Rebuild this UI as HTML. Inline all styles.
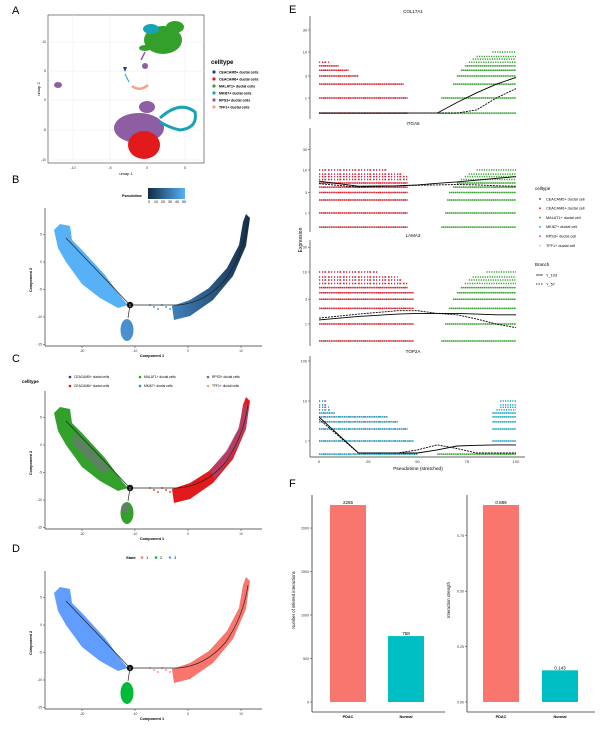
<!DOCTYPE html>
<html><head><meta charset="utf-8"><style>
body{margin:0;background:#fff}
svg{display:block;font-family:"Liberation Sans",sans-serif}
</style></head><body>
<svg id="fig" width="614" height="729" viewBox="0 0 614 729" xmlns="http://www.w3.org/2000/svg">
<defs>
<linearGradient id="gPseudo" x1="0" x2="1" y1="0" y2="0"><stop offset="0" stop-color="#132B43"/><stop offset="1" stop-color="#56B1F7"/></linearGradient>
<linearGradient id="gRight" x1="175" y1="0" x2="250" y2="0" gradientUnits="userSpaceOnUse"><stop offset="0" stop-color="#3e7fb8"/><stop offset="1" stop-color="#152f4a"/></linearGradient>
</defs>
<g font-size="11" fill="#000">
<text x="12" y="14">A</text>
<text x="12" y="183">B</text>
<text x="12" y="362">C</text>
<text x="12" y="552">D</text>
<text x="289" y="13">E</text>
<text x="289" y="487">F</text>
</g>

<g>
<rect x="48" y="15" width="156" height="148" fill="#fff" stroke="#555" stroke-width="0.7"/>
<g stroke="#ebebeb" stroke-width="0.5">
<line x1="73" y1="15" x2="73" y2="163"/><line x1="110" y1="15" x2="110" y2="163"/><line x1="147" y1="15" x2="147" y2="163"/><line x1="185" y1="15" x2="185" y2="163"/>
<line x1="48" y1="42" x2="204" y2="42"/><line x1="48" y1="71" x2="204" y2="71"/><line x1="48" y1="100" x2="204" y2="100"/><line x1="48" y1="130" x2="204" y2="130"/><line x1="48" y1="160" x2="204" y2="160"/>
</g>
<ellipse cx="163" cy="40" rx="19" ry="14" fill="#33a02c"/>
<ellipse cx="175" cy="27" rx="9" ry="6" fill="#33a02c"/>
<ellipse cx="151" cy="29" rx="8" ry="5" fill="#17a2b8"/>
<ellipse cx="145" cy="48" rx="6" ry="3" fill="#33a02c"/>
<ellipse cx="145" cy="66" rx="3" ry="3" fill="#8e5ea2"/>
<path d="M145 52 L141 60" stroke="#8e5ea2" stroke-width="1.5"/>
<path d="M123 67 l4 0 l-2 5z" fill="#1f3a93"/>
<path d="M125 74 L129 82" stroke="#17a2b8" stroke-width="1"/>
<path d="M132 86 Q140 92 148 85" stroke="#f4a582" stroke-width="2.5" fill="none"/>
<ellipse cx="58" cy="85" rx="4" ry="3" fill="#8e5ea2"/>
<ellipse cx="147" cy="107" rx="8" ry="6" fill="#8e5ea2"/>
<ellipse cx="139" cy="128" rx="25" ry="15" fill="#8e5ea2"/>
<ellipse cx="144" cy="145" rx="16" ry="14" fill="#e31a1c"/>
<path d="M160 118 Q180 100 195 112 Q198 128 180 130 Q170 128 160 122" stroke="#17a2b8" stroke-width="3" fill="none"/>
<g font-size="3.5" fill="#333">
<text x="73" y="169" text-anchor="middle">-10</text><text x="110" y="169" text-anchor="middle">-5</text><text x="147" y="169" text-anchor="middle">0</text><text x="185" y="169" text-anchor="middle">5</text>
<text x="46" y="43" text-anchor="end">10</text><text x="46" y="72" text-anchor="end">5</text><text x="46" y="101" text-anchor="end">0</text><text x="46" y="131" text-anchor="end">-5</text><text x="46" y="161" text-anchor="end">-10</text>
</g>
<text x="126" y="175" font-size="4" text-anchor="middle">umap 1</text>
<text x="40" y="89" font-size="4" text-anchor="middle" transform="rotate(-90 40 89)">umap 2</text>
<g font-size="3.5" font-weight="bold">
<text x="211" y="64" font-size="6">celltype</text>
<circle cx="214" cy="72" r="1.6" fill="#1f3a93"/><text x="219" y="73.5">CEACAM5+ ductal cells</text>
<circle cx="214" cy="79" r="1.6" fill="#e31a1c"/><text x="219" y="80.5">CEACAM6+ ductal cells</text>
<circle cx="214" cy="86" r="1.6" fill="#33a02c"/><text x="219" y="87.5">MALAT1+ ductal cells</text>
<circle cx="214" cy="93" r="1.6" fill="#17a2b8"/><text x="219" y="94.5">MKI67+ ductal cells</text>
<circle cx="214" cy="100" r="1.6" fill="#8e5ea2"/><text x="219" y="101.5">RPS3+ ductal cells</text>
<circle cx="214" cy="107" r="1.6" fill="#f4a582"/><text x="219" y="108.5">TFF1+ ductal cells</text>
</g>
</g>

<g font-size="3.5">
<text x="122" y="197" font-weight="bold">Pseudotime</text>
<rect x="148" y="188" width="37" height="11" fill="url(#gPseudo)"/>
<text x="148" y="203">0</text><text x="154" y="203">10</text><text x="161" y="203">20</text><text x="168" y="203">30</text><text x="175" y="203">40</text><text x="182" y="203">50</text>
</g>
<g font-size="3.3">
<text x="22" y="383" font-size="4.5" font-weight="bold">celltype</text>
<circle cx="70" cy="377" r="1.3" fill="#1f3a93"/><text x="74" y="378.2">CEACAM5+ ductal cells</text>
<circle cx="140" cy="377" r="1.3" fill="#33a02c"/><text x="144" y="378.2">MALAT1+ ductal cells</text>
<circle cx="208" cy="377" r="1.3" fill="#8e5ea2"/><text x="212" y="378.2">RPS3+ ductal cells</text>
<circle cx="70" cy="386" r="1.3" fill="#e31a1c"/><text x="74" y="387.2">CEACAM6+ ductal cells</text>
<circle cx="140" cy="386" r="1.3" fill="#17a2b8"/><text x="144" y="387.2">MKI67+ ductal cells</text>
<circle cx="208" cy="386" r="1.3" fill="#f4a582"/><text x="212" y="387.2">TFF1+ ductal cells</text>
</g>
<g font-size="4">
<text x="126" y="559" font-weight="bold">State</text>
<circle cx="142" cy="557.5" r="1.3" fill="#F8766D"/><text x="146" y="559">1</text>
<circle cx="156" cy="557.5" r="1.3" fill="#00BA38"/><text x="160" y="559">2</text>
<circle cx="170" cy="557.5" r="1.3" fill="#619CFF"/><text x="174" y="559">3</text>
</g>
<g id="traj"></g>
<g id="panelE"></g>
<g id="panelF"></g>
</svg>
<script>
const NS='http://www.w3.org/2000/svg';
function mk(parent,tag,attrs,txt){const e=document.createElementNS(NS,tag);for(const k in attrs)e.setAttribute(k,attrs[k]);if(txt!==undefined)e.textContent=txt;parent.appendChild(e);return e;}

const trajOffsets=[0,183,363];
const trajNames=['pseudotime-trajectory','celltype-trajectory','state-trajectory'];
const trajColors=[
 {left:'#56B1F7',low:'#4a8fd0',right:'url(#gRight)',rightOver:null,leftOver:null},
 {left:'#33a02c',low:'#33a02c',right:'#e31a1c',rightOver:'#8e5ea2',leftOver:'#8e5ea2'},
 {left:'#619CFF',low:'#00BA38',right:'#F8766D',rightOver:null,leftOver:null}];
const compXTicks=[-20,-10,0,10];
const compYTicks=[5,0,-5,-10,-15];
function cx(v){return 188+v*5.3;}
function cy(v){return 262-v*5.5;}
const T=document.getElementById('traj');
trajOffsets.forEach((dy,i)=>{
 const g=mk(T,'g',{transform:'translate(0,'+dy+')'});
 
 
 const c=trajColors[i];
 mk(g,'path',{d:'M54 230 L60 224 L70 226 L72 240 L82 250 L105 275 L122 298 L128 305 L118 308 L100 298 L82 284 L66 262 L58 248 Z',fill:c.left});
 if(c.leftOver) mk(g,'path',{d:'M75 250 L110 285 L104 292 L72 260Z',fill:c.leftOver,opacity:0.45});
 mk(g,'path',{d:'M174 320 L190 316 L213 300 L233 276 L246 246 L250 218 L246 214 L243 222 L239 245 L227 268 L209 288 L190 300 L172 306 Z',fill:c.right});
 if(c.rightOver) mk(g,'path',{d:'M215 296 L233 272 L246 245 L249 222 L244 222 L238 246 L226 268 L210 288Z',fill:c.rightOver,opacity:0.5});
 mk(g,'ellipse',{cx:127,cy:330,rx:6.5,ry:11,fill:c.low});
 if(i===1) mk(g,'ellipse',{cx:125,cy:325,rx:4,ry:5,fill:'#8e5ea2',opacity:0.5});
 for(let k=0;k<6;k++) mk(g,'circle',{cx:150+k*4,cy:305+(k%3)*2,r:0.9,fill:i==2?'#F8766D':(i==1?'#e31a1c':'#3e7fb8')});
 mk(g,'path',{d:'M66 238 L130 305 L178 305 Q205 303 225 280 Q243 255 248 222 M130 305 L128 318',stroke:'#222',fill:'none','stroke-width':0.7});
 mk(g,'circle',{cx:130,cy:305,r:3.2,fill:'#111'});
 mk(g,'text',{x:130,y:306.5,'font-size':3.5,fill:'#fff','text-anchor':'middle'},'1');
 mk(g,'line',{x1:45,y1:208,x2:45,y2:346,stroke:'#333','stroke-width':0.7});
 mk(g,'line',{x1:45,y1:346,x2:262,y2:346,stroke:'#333','stroke-width':0.7});
 compXTicks.forEach(t=>{const x=cx(t);mk(g,'line',{x1:x,y1:346,x2:x,y2:348,stroke:'#333','stroke-width':0.5});mk(g,'text',{x:x,y:352,'font-size':3.3,'text-anchor':'middle',fill:'#333'},t);});
 compYTicks.forEach(t=>{const y=cy(t);mk(g,'line',{x1:43,y1:y,x2:45,y2:y,stroke:'#333','stroke-width':0.5});mk(g,'text',{x:42,y:y+1.2,'font-size':3.3,'text-anchor':'end',fill:'#333'},t);});
 mk(g,'text',{x:152,y:357,'font-size':3.8,'text-anchor':'middle','font-weight':'bold'},'Component 1');
 mk(g,'text',{x:32,y:280,'font-size':3.8,'text-anchor':'middle','font-weight':'bold',transform:'rotate(-90 32 280)'},'Component 2');
});

const genes=['COL17A1','ITGA6','LAMA3','TOP2A'];
const pseudoTicks=[0,25,50,75,100];
const trendX=[0,20,40,50,60,70,80,90,100];
const y103=[[0.47,0.47,0.47,0.47,0.47,0.8,1.3,2,2.8],[5.5,4.2,4.3,4.5,4.9,5.3,5.8,6.4,7],[1.2,1.4,1.55,1.6,1.6,1.6,1.55,1.5,1.5],[4,0.5,0.5,0.5,0.6,0.75,0.78,0.8,0.8]];
const y57=[[0.47,0.47,0.47,0.47,0.47,0.47,0.55,1,1.6],[4.8,4,4.3,4.4,4.5,4.6,4.5,4.3,4.2],[1.3,1.55,1.8,1.8,1.6,1.5,1.25,1,0.85],[3.5,0.5,0.5,0.6,0.8,0.65,0.5,0.5,0.5]];
const facetTicks=[[1,3,10,30],[1,3,10,30],[1,3,10,30],[1,10,100]];
const facetGeom=[{t:13,y1:98,ppd:46,bot:119},{t:125,y1:213,ppd:43,bot:232},{t:237,y1:324,ppd:52,bot:346},{t:353,y1:441,ppd:40,bot:457}];
const rowVals=[0.47,1,2,3,4,5,6,7,8,10];
const leftEnd=[[45,45,43,20,15,10,5,0,0,0],[45,45,45,45,45,45,45,45,42,35],[48,48,48,48,48,45,45,42,40,30],[50,48,45,40,35,8,6,5,4,4]];
const rightStart=[[60,62,68,70,72,74,76,78,80,88],[62,64,65,66,68,70,72,74,76,80],[62,64,66,68,70,72,74,76,78,85],[60,88,88,88,88,88,90,92,92,92]];
function px(v){return 319+v*1.97;}
const E=document.getElementById('panelE');
mk(E,'text',{x:302,y:240,'font-size':5,'text-anchor':'middle',transform:'rotate(-90 302 240)'},'Expression');
facetGeom.forEach((f,i)=>{
 const g=mk(E,'g',{});
 
 
 const py=v=>f.y1-Math.log10(v)*f.ppd;
 mk(g,'text',{x:413,y:f.t,'font-size':4.5,'text-anchor':'middle'},genes[i]);
 mk(g,'line',{x1:310,y1:f.t+3,x2:310,y2:f.bot,stroke:'#333','stroke-width':0.7});
 facetTicks[i].forEach(t=>{const y=py(t);mk(g,'text',{x:307,y:y+1.3,'font-size':3.8,'text-anchor':'end',fill:'#333'},t);mk(g,'line',{x1:308,y1:y,x2:310,y2:y,stroke:'#333','stroke-width':0.5});});
 rowVals.forEach((v,k)=>{
  const y=py(v);
  const le=leftEnd[i][k];
  const lc=(i==3)?'#17a2b8':'#e31a1c';
  if(le>0){mk(g,'line',{x1:px(0),y1:y,x2:px(le),y2:y,stroke:lc,'stroke-width':1.5,'stroke-dasharray':(k<6?'1.5 0.4':'1.2 1.8')});
   mk(g,'line',{x1:px(0),y1:y,x2:px(le),y2:y,stroke:(k==0?'#17a2b8':'#8e5ea2'),'stroke-width':1.5,'stroke-dasharray':'1 4',opacity:0.8});}
  const rs=rightStart[i][k];
  mk(g,'line',{x1:px(rs),y1:y,x2:px(100),y2:y,stroke:(i==3&&k>0)?'#17a2b8':'#33a02c','stroke-width':1.5,'stroke-dasharray':(k<6?'1.5 0.4':'1.2 1.2')});
 });
 const d1=trendX.map((x,k)=>(k?'L':'M')+px(x).toFixed(1)+' '+py(y103[i][k]).toFixed(1)).join(' ');
 const d2=trendX.map((x,k)=>(k?'L':'M')+px(x).toFixed(1)+' '+py(y57[i][k]).toFixed(1)).join(' ');
 const l1=mk(g,'path',{d:d1,stroke:'#000',fill:'none','stroke-width':0.9});
 
 
 const l2=mk(g,'path',{d:d2,stroke:'#000',fill:'none','stroke-width':0.9,'stroke-dasharray':'2 1'});
 
 
});
mk(E,'line',{x1:310,y1:457,x2:525,y2:457,stroke:'#333','stroke-width':0.7});
pseudoTicks.forEach(t=>{mk(E,'text',{x:px(t),y:463,'font-size':4,'text-anchor':'middle',fill:'#333'},t);});
mk(E,'text',{x:418,y:470,'font-size':4.8,'text-anchor':'middle'},'Pseudotime (stretched)');
const lg=mk(E,'g',{'font-size':3.8});


const ctNames=['CEACAM5+ ductal cell','CEACAM6+ ductal cell','MALAT1+ ductal cell','MKI67+ ductal cell','RPS3+ ductal cell','TFF1+ ductal cell'];
const ctCols=['#1f3a93','#e31a1c','#33a02c','#17a2b8','#8e5ea2','#f4a582'];
mk(lg,'text',{x:535,y:190,'font-size':4.5},'celltype');
ctNames.forEach((n,k)=>{const y=199+k*9.3;mk(lg,'circle',{cx:540,cy:y,r:0.9,fill:ctCols[k]});mk(lg,'text',{x:546,y:y+1.3},n);});
mk(lg,'text',{x:535,y:266,'font-size':4.5},'Branch');
mk(lg,'line',{x1:536,y1:275,x2:543,y2:275,stroke:'#000','stroke-width':0.7});mk(lg,'text',{x:546,y:276.3},'Y_103');
mk(lg,'line',{x1:536,y1:284,x2:543,y2:284,stroke:'#000','stroke-width':0.7,'stroke-dasharray':'1.5 1'});mk(lg,'text',{x:546,y:285.3},'Y_57');

const groups=['PDAC','Normal'];
const countVals=[2265,758];
const strengthVals=[0.889,0.143];
const countTicks=[0,500,1000,1500,2000];
const strengthTicks=[0,0.25,0.5,0.75];
const strengthLabels=['0.00','0.25','0.50','0.75'];
const countLabels=['2265','758'];
const strengthValLabels=['0.889','0.143'];
const F=document.getElementById('panelF');
const barCols=['#F8766D','#00BFC4'];
function barChart(name,axX,endX,barXs,bw,vals,labels,ticks,tickLabs,maxV,title){
 const g=mk(F,'g',{});
 
 
 const y0=702,ypix=v=>y0-v/maxV*197;
 mk(g,'line',{x1:axX,y1:495,x2:axX,y2:712,stroke:'#333','stroke-width':0.8});
 mk(g,'line',{x1:axX,y1:712,x2:endX,y2:712,stroke:'#333','stroke-width':0.8});
 ticks.forEach((t,k)=>{const y=ypix(t);mk(g,'line',{x1:axX-2,y1:y,x2:axX,y2:y,stroke:'#333','stroke-width':0.5});mk(g,'text',{x:axX-3,y:y+1.3,'font-size':3.6,'text-anchor':'end',fill:'#333'},tickLabs[k]);});
 vals.forEach((v,k)=>{
  const b=mk(g,'rect',{x:barXs[k],y:ypix(v),width:bw,height:y0-ypix(v),fill:barCols[k]});
  
  
  mk(g,'text',{x:barXs[k]+bw/2,y:ypix(v)-1,'font-size':4.5,'text-anchor':'middle'},labels[k]);
  mk(g,'text',{x:barXs[k]+bw/2,y:718,'font-size':3.8,'text-anchor':'middle','font-weight':'bold'},groups[k]);
 });
 mk(g,'text',{x:axX-17,y:600,'font-size':4.2,'text-anchor':'middle',transform:'rotate(-90 '+(axX-17)+' 600)'},title);
}
barChart('interactions-count-chart',312,445,[330,388],36,countVals,countLabels,countTicks,countTicks.map(String),2265,'Number of inferred interactions');
barChart('interaction-strength-chart',467,595,[483,542],36,strengthVals,strengthValLabels,strengthTicks,strengthLabels,0.889,'Interaction strength');
</script>
</body></html>
